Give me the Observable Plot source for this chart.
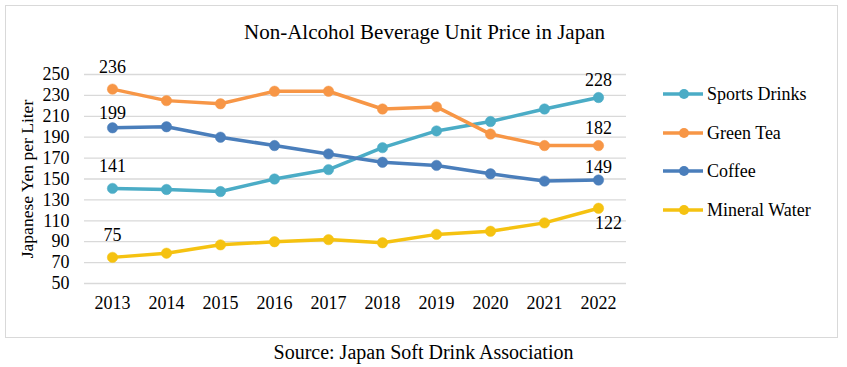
<!DOCTYPE html>
<html>
<head>
<meta charset="utf-8">
<script src="https://cdn.jsdelivr.net/npm/d3@7"></script>
<script src="https://cdn.jsdelivr.net/npm/@observablehq/plot@0.6"></script>
<style>
  html, body { margin: 0; padding: 0; background: #fff; }
  body { width: 847px; height: 367px; position: relative; overflow: hidden; font-family: "Liberation Serif", "Times New Roman", serif; color: #000; }
  #frame { position: absolute; left: 5px; top: 5px; width: 833px; height: 333px; border: 1px solid #d9d9d9; box-sizing: border-box; }
  #title { position: absolute; left: 8px; width: 833px; top: 18px; text-align: center; font-size: 21px; line-height: 28px; }
  #chart { position: absolute; left: 0; top: 0; }
  #chart svg, #chart svg text { font-family: "Liberation Serif", "Times New Roman", serif !important; }
  #ylabel { position: absolute; left: 27px; top: 179px; transform: translate(-50%, -50%) rotate(-90deg); white-space: nowrap; font-size: 17.5px; line-height: 20px; }
  #source { position: absolute; left: 0; width: 847px; top: 340px; text-align: center; font-size: 20px; line-height: 24px; }
  .leg { position: absolute; left: 663px; height: 24px; display: flex; align-items: center; font-size: 18px; }
  .leg svg { margin-right: 4px; }
</style>
</head>
<body>
<div id="frame"></div>
<div id="title">Non-Alcohol Beverage Unit Price in Japan</div>
<div id="chart"></div>
<div id="ylabel"></div>
<div id="legend"></div>
<div id="source">Source: Japan Soft Drink Association</div>
<script>
const years = [2013, 2014, 2015, 2016, 2017, 2018, 2019, 2020, 2021, 2022];
const sportsDrinks = [141, 140, 138, 150, 159, 180, 196, 205, 217, 228];
const greenTea = [236, 225, 222, 234, 234, 217, 219, 193, 182, 182];
const coffee = [199, 200, 190, 182, 174, 166, 163, 155, 148, 149];
const mineralWater = [75, 79, 87, 90, 92, 89, 97, 100, 108, 122];
const seriesNames = ["Sports Drinks", "Green Tea", "Coffee", "Mineral Water"];
const yTicks = [50, 70, 90, 110, 130, 150, 170, 190, 210, 230, 250];
const yLabel = "Japanese Yen per Liter";

const seriesColors = ["#4bacc6", "#f79646", "#4a7ebb", "#f5c211"];
const seriesValues = [sportsDrinks, greenTea, coffee, mineralWater];

const rows = [];
seriesNames.forEach((s, i) => {
  years.forEach((y, j) => rows.push({ series: s, year: y, value: seriesValues[i][j] }));
});

const first = years[0], last = years[years.length - 1];
const pick = (yr, names) => rows.filter(d => d.year === yr && names.includes(d.series));
const FS = 18;

const chart = Plot.plot({
  width: 847,
  height: 330,
  marginLeft: 84,
  marginRight: 221,
  marginTop: 74,
  marginBottom: 47,
  style: { fontFamily: "Liberation Serif", fontSize: FS + "px", color: "#000", background: "transparent", overflow: "visible" },
  x: { type: "point", domain: years, padding: 0.5, label: null },
  y: { domain: [50, 250], label: null },
  color: { domain: seriesNames, range: seriesColors },
  marks: [
    Plot.ruleY(yTicks, { stroke: "#d9d9d9", strokeWidth: 1.3 }),
    Plot.axisY({ ticks: yTicks, tickSize: 0, tickPadding: 15, label: null, fontSize: FS }),
    Plot.axisX({ tickSize: 0, tickPadding: 13, label: null, fontSize: FS, tickFormat: d => String(d) }),
    Plot.line(rows, { x: "year", y: "value", z: "series", stroke: "series", strokeWidth: 3.5 }),
    Plot.dot(rows, { x: "year", y: "value", fill: "series", r: 5.2, stroke: "series", strokeWidth: 0.5 }),
    Plot.text(pick(first, ["Sports Drinks", "Green Tea", "Mineral Water"]), { x: "year", y: "value", text: d => String(d.value), dy: -22, fontSize: FS, fill: "#000" }),
    Plot.text(pick(first, ["Coffee"]), { x: "year", y: "value", text: d => String(d.value), dy: -15, fontSize: FS, fill: "#000" }),
    Plot.text(pick(last, ["Sports Drinks", "Green Tea"]), { x: "year", y: "value", text: d => String(d.value), dy: -17, fontSize: FS, fill: "#000" }),
    Plot.text(pick(last, ["Coffee"]), { x: "year", y: "value", text: d => String(d.value), dy: -13, fontSize: FS, fill: "#000" }),
    Plot.text(pick(last, ["Mineral Water"]), { x: "year", y: "value", text: d => String(d.value), dy: 15, dx: 10, fontSize: FS, fill: "#000" })
  ]
});
document.getElementById("chart").appendChild(chart);
document.getElementById("ylabel").textContent = yLabel;

const legendTops = [94, 133, 171, 210];
const legend = document.getElementById("legend");
seriesNames.forEach((name, i) => {
  const item = document.createElement("div");
  item.className = "leg";
  item.style.top = (legendTops[i] - 12) + "px";
  item.innerHTML = `<svg width="40" height="14"><line x1="0" y1="7" x2="40" y2="7" stroke="${seriesColors[i]}" stroke-width="3.5"/><circle cx="21" cy="7" r="5" fill="${seriesColors[i]}"/></svg><span>${name}</span>`;
  legend.appendChild(item);
});
</script>
</body>
</html>
